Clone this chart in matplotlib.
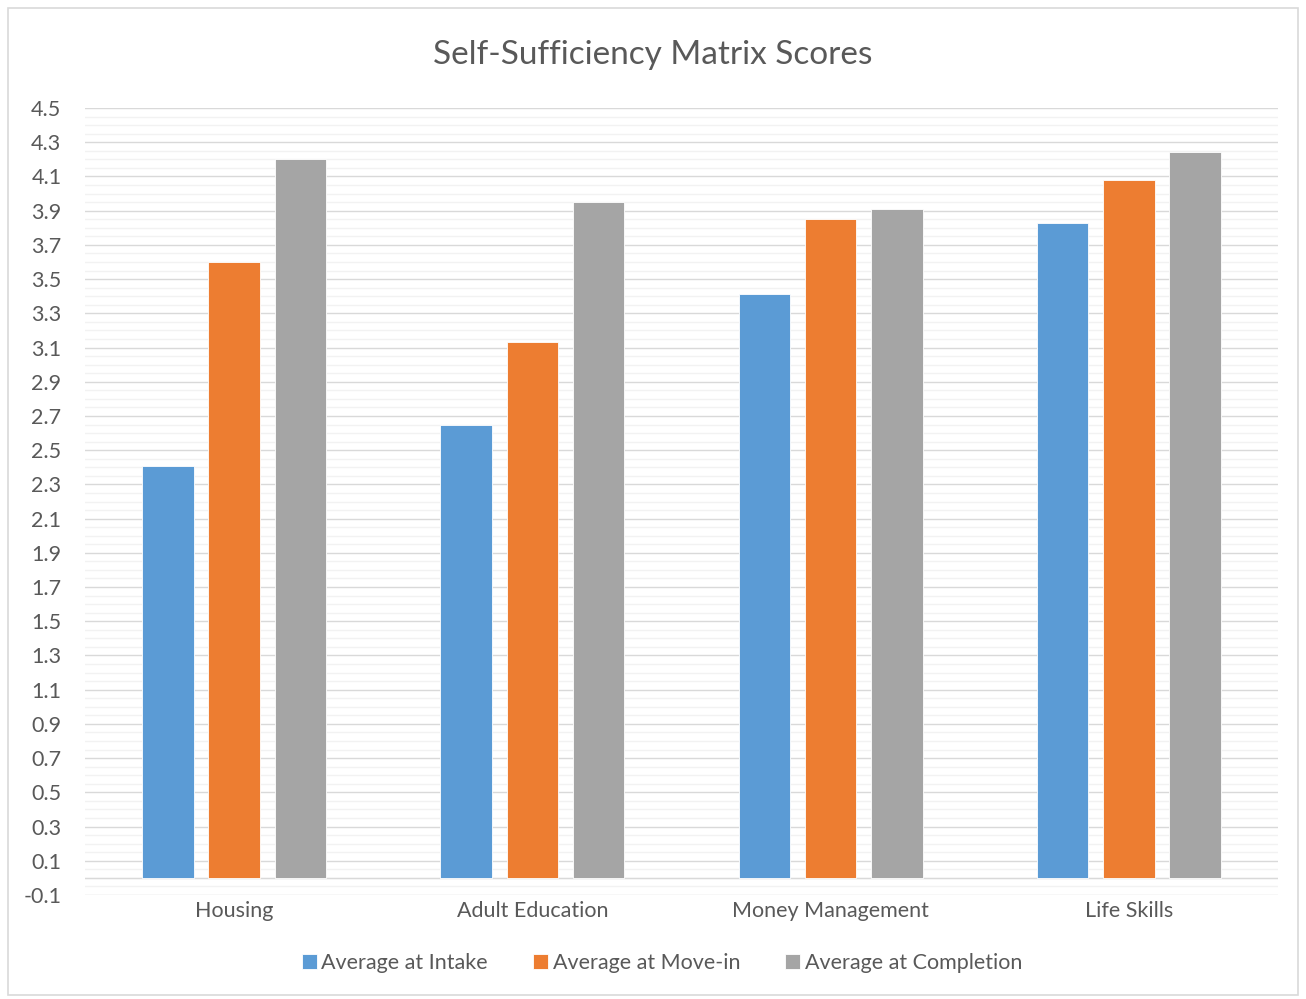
import matplotlib.pyplot as plt
import numpy as np
from matplotlib.patches import Rectangle

categories = ['Housing', 'Adult Education', 'Money Management', 'Life Skills']
series_names = ['Average at Intake', 'Average at Move-in', 'Average at Completion']
intake = [2.41, 2.65, 3.41, 3.83]
move_in = [3.60, 3.13, 3.85, 4.08]
completion = [4.20, 3.95, 3.91, 4.24]
colors = ['#5B9BD5', '#ED7D31', '#A5A5A5']

plt.rcParams['font.family'] = ['Lato', 'DejaVu Sans']

fig = plt.figure(figsize=(13.06, 9.99), dpi=100)
ax = fig.add_axes([85 / 1306, 1 - 895 / 999, (1278 - 85) / 1306, (895 - 108) / 999])

x = np.arange(len(categories))
width = 0.173
step = 0.222
for i, (vals, name) in enumerate(zip([intake, move_in, completion], series_names)):
    ax.bar(x + (i - 1) * step, vals, width, color=colors[i], label=name,
           edgecolor='white', linewidth=0.6, zorder=3)

ax.set_xlim(-0.5, len(categories) - 0.5)
ax.set_ylim(-0.1, 4.5)
ax.set_yticks(np.arange(-0.1, 4.51, 0.2))
ax.set_yticklabels([f'{v:.1f}' for v in np.arange(-0.1, 4.51, 0.2)])
ax.set_yticks(np.arange(-0.1, 4.51, 0.05), minor=True)
ax.grid(axis='y', which='major', color='#D9D9D9', linewidth=1.0, zorder=0)
ax.grid(axis='y', which='minor', color='#F2F2F2', linewidth=1.0, zorder=0)
ax.axhline(0, color='#D9D9D9', linewidth=1.0, zorder=2)
ax.set_xticks(x)
ax.set_xticklabels(categories)
ax.tick_params(axis='both', which='both', length=0, labelsize=15.5, colors='#595959')
ax.tick_params(axis='x', pad=4)
ax.tick_params(axis='y', pad=17)
for s in ax.spines.values():
    s.set_visible(False)

fig.text(0.5, 1 - 55 / 999, 'Self-Sufficiency Matrix Scores', ha='center', va='center',
         fontsize=24, color='#595959')

handles, labels = ax.get_legend_handles_labels()
fig.legend(handles, labels, loc='center', bbox_to_anchor=(0.507, 1 - 963 / 999), ncol=3,
           frameon=False, fontsize=15.5, labelcolor='#595959', handlelength=0.7,
           handleheight=0.7, handletextpad=0.2, columnspacing=2.1)

fig.patches.append(Rectangle((8 / 1306, 4 / 999), 1290 / 1306, 987 / 999,
                             transform=fig.transFigure, fill=False,
                             edgecolor='#D9D9D9', linewidth=1.2))

fig.savefig('out.png', dpi=100)
